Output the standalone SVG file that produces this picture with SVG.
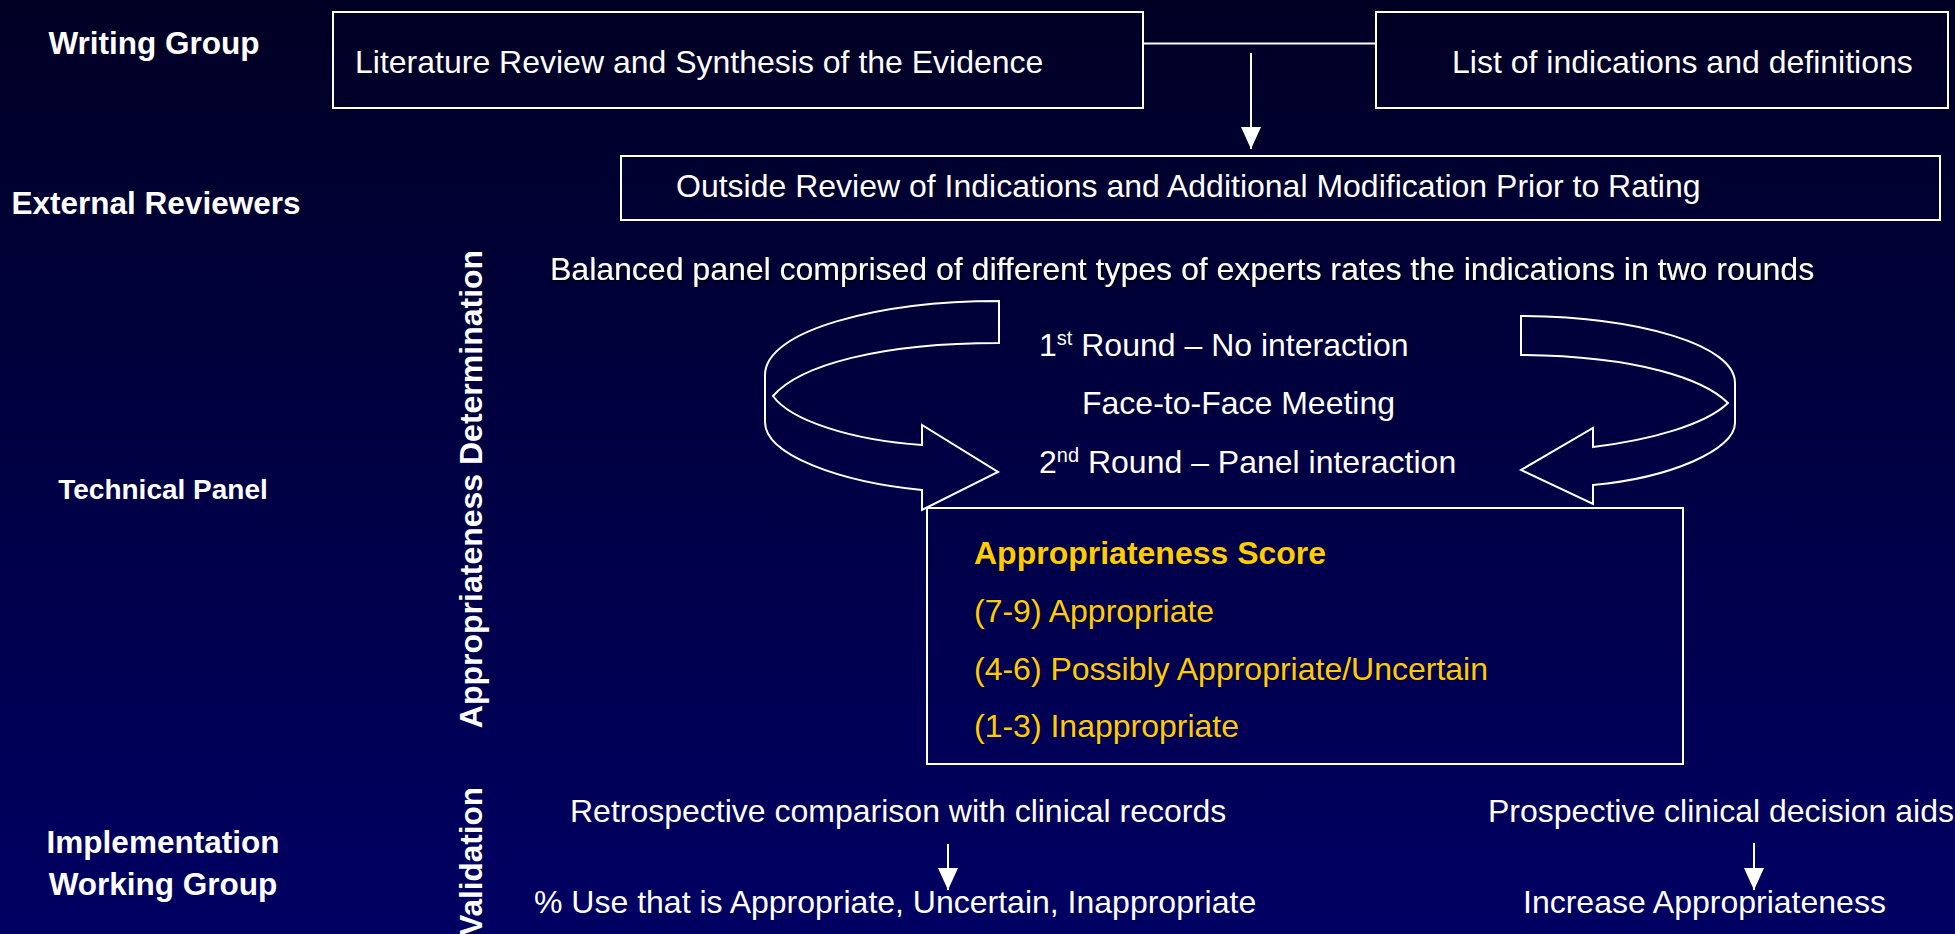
<svg xmlns="http://www.w3.org/2000/svg" width="1955" height="934" viewBox="0 0 1955 934">
  <defs>
    <linearGradient id="bg" x1="0" y1="0" x2="0" y2="1">
      <stop offset="0" stop-color="#000024"/>
      <stop offset="1" stop-color="#000063"/>
    </linearGradient>
    <marker id="head" viewBox="0 0 22 20" refX="22" refY="10" markerWidth="22" markerHeight="20" markerUnits="userSpaceOnUse" orient="auto">
      <path d="M0,0 L22,10 L0,20 Z" fill="#ffffff"/>
    </marker>
    <filter id="shadow" x="-5%" y="-50%" width="110%" height="200%">
      <feDropShadow dx="1.5" dy="1.5" stdDeviation="0.6" flood-color="#000000" flood-opacity="0.9"/>
    </filter>
    <style>
      .box { fill: none; stroke: #ffffff; stroke-width: 2; }
      .txt { font-family: "Liberation Sans", Arial, sans-serif; font-size: 32px; fill: #ffffff; }
      .lbl { font-family: "Liberation Sans", Arial, sans-serif; font-size: 31.5px; font-weight: bold; fill: #ffffff; }
      .lbl.small { font-size: 28px; }
      .lbl.side { font-size: 32px; }
      .ylw { font-family: "Liberation Sans", Arial, sans-serif; font-size: 32px; fill: #ffcc00; }
      .ylwb { font-weight: bold; }
      .wire { fill: none; stroke: #ffffff; stroke-width: 2; }
      .ribbon { fill: none; stroke: #ffffff; stroke-width: 2; stroke-linejoin: miter; }
    </style>
  </defs>

  <rect x="0" y="0" width="1955" height="934" fill="url(#bg)"/>

  <!-- row labels -->
  <g id="label-writing-group">
    <text class="lbl" x="154" y="54" text-anchor="middle">Writing Group</text>
  </g>
  <g id="label-external-reviewers">
    <text class="lbl" x="156" y="214" text-anchor="middle">External Reviewers</text>
  </g>
  <g id="label-technical-panel">
    <text class="lbl small" x="163" y="499" text-anchor="middle">Technical Panel</text>
  </g>
  <g id="label-implementation">
    <text class="lbl" x="163" y="853" text-anchor="middle">Implementation</text>
    <text class="lbl" x="163" y="895" text-anchor="middle">Working Group</text>
  </g>
  <g id="label-appropriateness">
    <text class="lbl side" transform="translate(482 489) rotate(-90)" text-anchor="middle">Appropriateness Determination</text>
  </g>
  <g id="label-validation">
    <text class="lbl" transform="translate(482 787) rotate(-90)" text-anchor="end">Validation</text>
  </g>

  <!-- process boxes -->
  <g id="literature-review">
    <rect class="box" x="333" y="12" width="810" height="96"/>
    <text class="txt" x="355" y="73">Literature Review and Synthesis of the Evidence</text>
  </g>
  <g id="indication-list">
    <rect class="box" x="1376" y="12" width="572" height="96"/>
    <text class="txt" x="1452" y="73">List of indications and definitions</text>
  </g>
  <g id="outside-review">
    <rect class="box" x="621" y="156" width="1319" height="64"/>
    <text class="txt" x="676" y="197">Outside Review of Indications and Additional Modification Prior to Rating</text>
  </g>
  <g id="panel-description">
    <text class="txt" x="550" y="280" filter="url(#shadow)">Balanced panel comprised of different types of experts rates the indications in two rounds</text>
  </g>
  <g id="rating-rounds">
    <text class="txt" x="1039" y="356">1<tspan font-size="20" dy="-11">st</tspan><tspan dy="11"> Round – No interaction</tspan></text>
    <text class="txt" x="1082" y="414">Face-to-Face Meeting</text>
    <text class="txt" x="1039" y="473">2<tspan font-size="20" dy="-11">nd</tspan><tspan dy="11"> Round – Panel interaction</tspan></text>
  </g>
  <g id="appropriateness-score">
    <rect class="box" x="927" y="508" width="756" height="256"/>
    <text class="ylw ylwb" x="974" y="564">Appropriateness Score</text>
    <text class="ylw" x="974" y="622">(7-9) Appropriate</text>
    <text class="ylw" x="974" y="680">(4-6) Possibly Appropriate/Uncertain</text>
    <text class="ylw" x="974" y="737">(1-3) Inappropriate</text>
  </g>
  <g id="retrospective">
    <text class="txt" x="570" y="822">Retrospective comparison with clinical records</text>
  </g>
  <g id="use-breakdown">
    <text class="txt" x="534" y="913">% Use that is Appropriate, Uncertain, Inappropriate</text>
  </g>
  <g id="prospective">
    <text class="txt" x="1488" y="822">Prospective clinical decision aids</text>
  </g>
  <g id="increase">
    <text class="txt" x="1523" y="913">Increase Appropriateness</text>
  </g>

  <!-- connectors -->
  <g id="connectors">
    <line class="wire" x1="1143" y1="43.5" x2="1376" y2="43.5"/>
    <line class="wire" x1="1251" y1="53" x2="1251" y2="149" marker-end="url(#head)"/>
    <line class="wire" x1="948" y1="844" x2="948" y2="890" marker-end="url(#head)"/>
    <line class="wire" x1="1754" y1="843" x2="1754" y2="890" marker-end="url(#head)"/>
    <!-- circular ribbon arrows around the rating rounds -->
    <path class="ribbon" d="M999,301 C880,301 765,330 765,375 L765,422 C765,455 840,482 922,490 L922,510 L998,472 L922,425 L922,445 C850,440 790,420 773,396 C800,365 880,343 999,343 Z"/>
    <path class="ribbon" d="M1521,316 C1640,317 1735,345 1735,383 L1735,423 C1735,450 1670,478 1593,485 L1593,504 L1521,470 L1593,428 L1593,447 C1650,440 1705,425 1728,403 C1705,380 1640,356 1521,355 Z"/>
  </g>
</svg>
